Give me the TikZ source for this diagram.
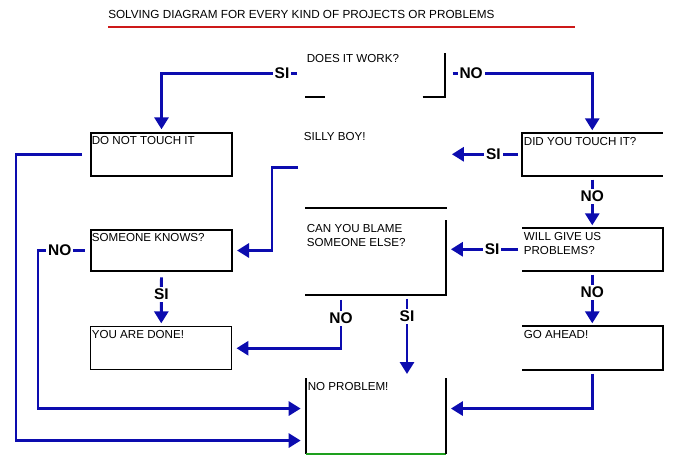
\documentclass[tikz,border=0pt]{standalone}
\usepackage{fontspec}
\setmainfont{Liberation Sans}
\usetikzlibrary{arrows.meta,calc}
\definecolor{flowblue}{RGB}{12,12,175}
\definecolor{titlered}{RGB}{205,25,25}
\definecolor{okgreen}{RGB}{30,160,30}

\begin{document}
\begin{tikzpicture}[x=0.75pt,y=-0.75pt,
  box/.style 2 args={rectangle,anchor=north west,inner sep=0pt,
    minimum width=#1*0.75pt,minimum height=#2*0.75pt},
  frame/.style={draw=black,line width=1.5pt},
  edge/.style={black,line width=1.5pt},
  boxtext/.style={anchor=north west,inner xsep=1.2pt,inner ysep=3pt,align=left,
    font=\fontsize{8.7}{10.5}\selectfont},
  flow/.style={flowblue,line width=2.2pt,-{Triangle[length=9pt,width=10.5pt]}},
  lbl/.style={fill=white,inner sep=1.5pt,text=black,
    font=\fontsize{11.6}{12}\selectfont\bfseries}]
  \useasboundingbox (0,0) rectangle (680,472);

  % title
  \node[anchor=west,inner sep=0pt,font=\fontsize{8.8}{11}\selectfont] (title) at (108,14)
    {SOLVING DIAGRAM FOR EVERY KIND OF PROJECTS OR PROBLEMS};
  \draw[titlered,line width=2.2pt] (108,27) -- (575,27);

  % boxes
  \node[box={139}{46},label={[boxtext]north west:DOES IT WORK?}] (work) at (305,50) {};
  \node[box={141}{43},frame,label={[boxtext]north west:DO NOT TOUCH IT}] (notouch) at (90,132) {};
  \node[box={144}{79},label={[boxtext]north west:SILLY BOY!}] (silly) at (302,128) {};
  \node[box={140}{42},label={[boxtext]north west:DID YOU TOUCH IT?}] (touched) at (522,133) {};
  \node[box={141}{41},frame,label={[boxtext]north west:SOMEONE KNOWS?}] (knows) at (90,229) {};
  \node[box={140}{74},label={[boxtext]north west:CAN YOU BLAME\\SOMEONE ELSE?}] (blame) at (305,220) {};
  \node[box={140}{42},label={[boxtext]north west:WILL GIVE US\\PROBLEMS?}] (trouble) at (522,228) {};
  \node[box={141}{43},draw=black,line width=1.1pt,label={[boxtext]north west:YOU ARE DONE!}] (done) at (90,326) {};
  \node[box={140}{43},label={[boxtext]north west:GO AHEAD!}] (ahead) at (522,326) {};
  \node[box={139}{75},label={[boxtext]north west:NO PROBLEM!}] (noprob) at (306,378) {};

  % partial borders
  \draw[edge] (work.south west) -- ++(20,0);
  \draw[edge] ($(work.south east)+(-22,0)$) -- (work.south east) -- ($(work.north east)+(0,3)$);
  \draw[edge] ($(silly.south west)+(3,0)$) -- (silly.south east);
  \draw[edge] (touched.north east) -- (touched.north west) -- (touched.south west) -- (touched.south east);
  \draw[edge] (trouble.north west) -- (trouble.north east) -- (trouble.south east) -- (trouble.south west);
  \draw[edge] (blame.north east) -- (blame.south east) -- (blame.south west);
  \draw[edge] (ahead.north west) -- (ahead.north east) -- (ahead.south east) -- (ahead.south west);
  \draw[edge] (noprob.north west) -- (noprob.south west);
  \draw[edge,okgreen] (noprob.south west) -- (noprob.south east);
  \draw[edge] (noprob.south east) -- (noprob.north east);

  % connectors
  \coordinate (blameno) at ($(blame.south west)+(36,0)$);
  \coordinate (blamesi) at ($(blame.south west)+(102,0)$);
  \draw[flow,shorten <=6pt,shorten >=2pt] (work.west) -| node[lbl,pos=0.08]{SI} (notouch.north);
  \draw[flow,shorten <=6pt,shorten >=2pt] (work.east) -| node[lbl,pos=0.09]{NO} (touched.north);
  \draw[flow,shorten <=6pt,shorten >=4pt] (notouch.west) -- ++(-74,0) |- ($(noprob.south west)+(0,-13)$);
  \draw[flow,shorten <=3pt,shorten >=3pt] (silly.west) -- ++(-30,0) |- (knows.east);
  \draw[flow,shorten <=3pt,shorten >=4pt] (touched.west) -- node[lbl,pos=0.38]{SI} (touched.west -| silly.east);
  \draw[flow,shorten <=3pt,shorten >=2pt] (touched.south) -- node[lbl,pos=0.4]{NO} (trouble.north);
  \draw[flow,shorten <=3pt,shorten >=4pt] (trouble.west) -- node[lbl,pos=0.39]{SI} (trouble.west -| blame.east);
  \draw[flow,shorten <=3pt,shorten >=2pt] (trouble.south) -- node[lbl,pos=0.39]{NO} (ahead.north);
  \draw[flow,shorten <=4pt,shorten >=4pt] (knows.west) -- node[lbl,pos=0.58]{NO} ++(-52,0) |- ($(noprob.south west)+(0,-45)$);
  \draw[flow,shorten <=4pt,shorten >=2pt] (knows.south) -- node[lbl,pos=0.41]{SI} (done.north);
  \draw[flow,shorten <=4pt,shorten >=3pt] (blameno) |- node[lbl,pos=0.22]{NO} (done.east);
  \draw[flow,shorten <=3pt,shorten >=3pt] (blamesi) -- node[lbl,pos=0.26]{SI} (blamesi |- noprob.north);
  \draw[flow,shorten <=3pt,shorten >=4pt] (ahead.south) |- ($(noprob.south east)+(0,-45)$);
\end{tikzpicture}
\end{document}
